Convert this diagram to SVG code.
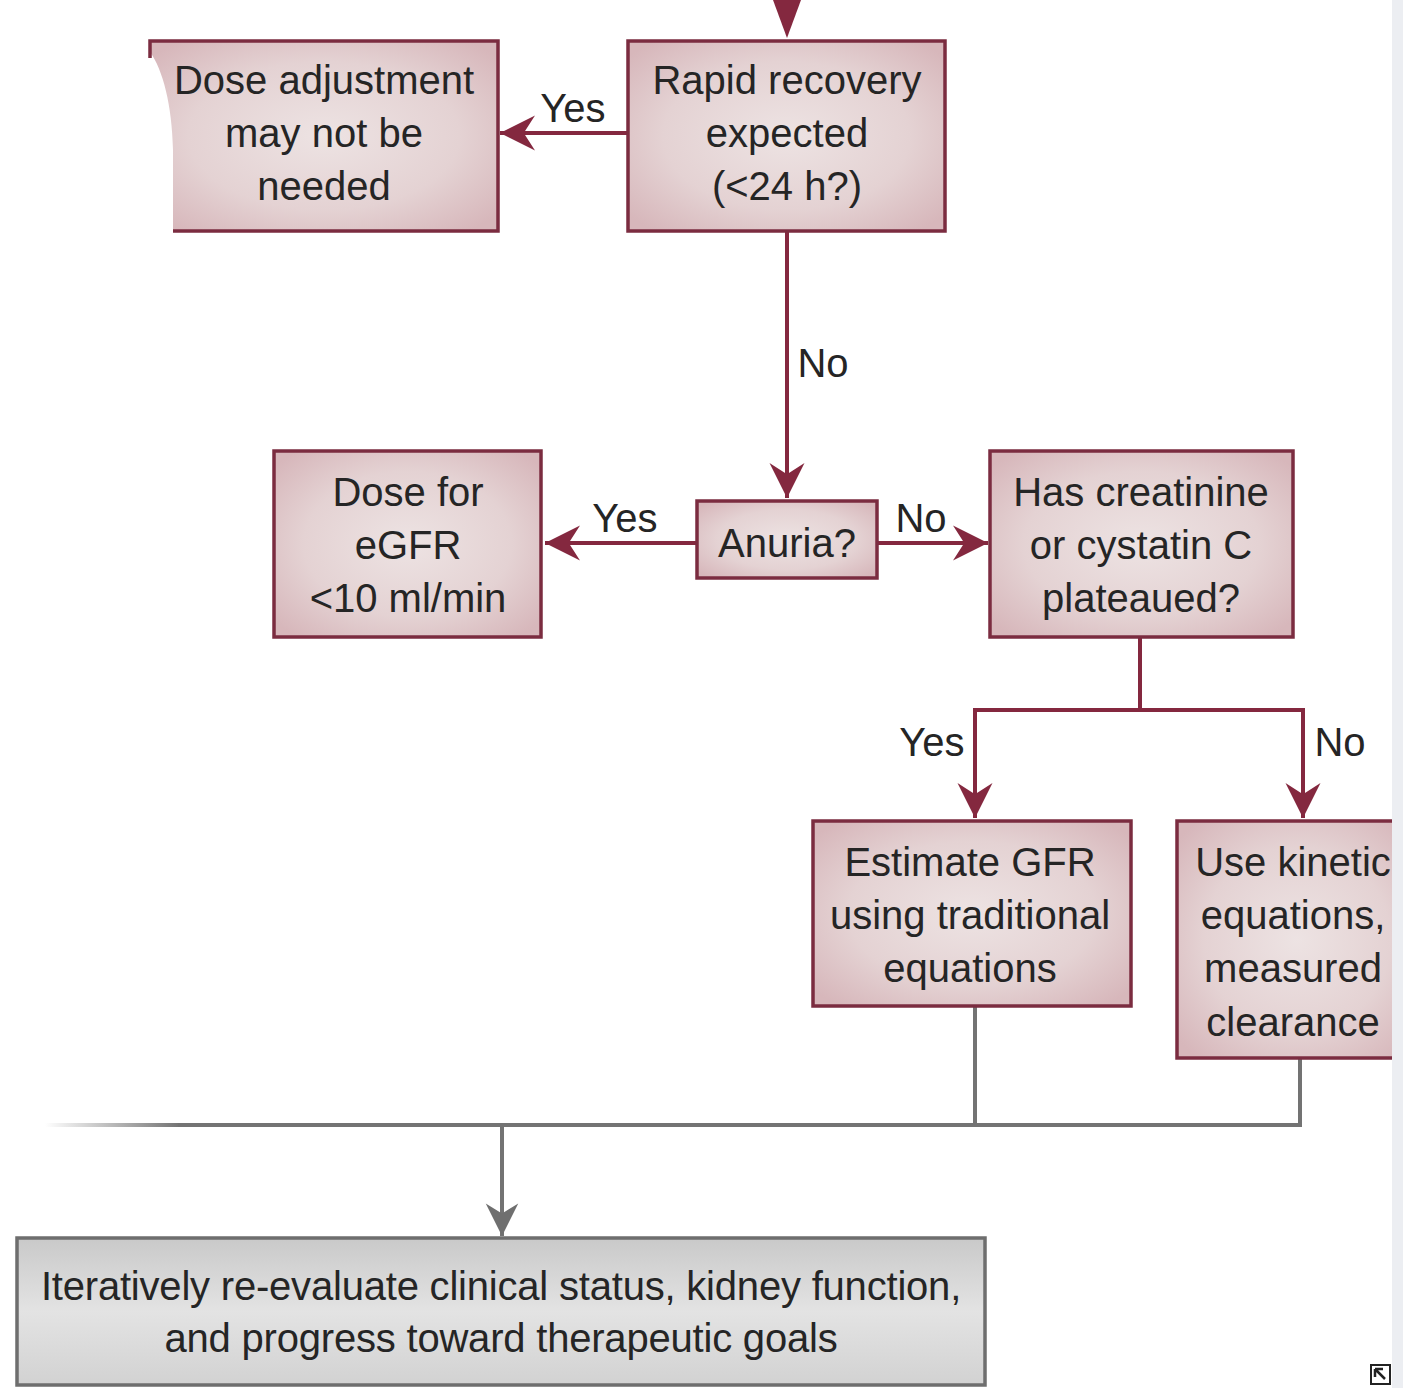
<svg xmlns="http://www.w3.org/2000/svg" width="1403" height="1388" viewBox="0 0 1403 1388">
<defs>
<radialGradient id="pink" cx="50%" cy="50%" r="65%">
<stop offset="0" stop-color="#ede3e3"/>
<stop offset="0.6" stop-color="#e4d2d3"/>
<stop offset="1" stop-color="#d7b7bb"/>
</radialGradient>
<linearGradient id="grayg" x1="0" y1="0" x2="0" y2="1">
<stop offset="0" stop-color="#c9c9c9"/>
<stop offset="0.5" stop-color="#e3e3e3"/>
<stop offset="1" stop-color="#d2d2d2"/>
</linearGradient>
<linearGradient id="fadeL" gradientUnits="userSpaceOnUse" x1="45" y1="0" x2="180" y2="0">
<stop offset="0" stop-color="#737373" stop-opacity="0"/>
<stop offset="1" stop-color="#737373" stop-opacity="1"/>
</linearGradient>
<marker id="ahM" markerUnits="userSpaceOnUse" markerWidth="40" markerHeight="40" viewBox="-30 -16 32 32" refX="0" refY="0" orient="auto">
<path d="M0,0 L-28,-14 L-19,0 L-28,14 Z" fill="#84283f"/>
</marker>
<marker id="ahG" markerUnits="userSpaceOnUse" markerWidth="40" markerHeight="40" viewBox="-30 -16 32 32" refX="0" refY="0" orient="auto">
<path d="M0,0 L-26,-13 L-18,0 L-26,13 Z" fill="#6f6f6f"/>
</marker>
<clipPath id="clipR"><rect x="0" y="0" width="1392" height="1388"/></clipPath>
<style>
.box{fill:url(#pink);stroke:#7b2c40;stroke-width:3.5}
.bfill{fill:url(#pink);stroke:none}
.bline{fill:none;stroke:#7b2c40;stroke-width:3.5}
.gbox{fill:url(#grayg);stroke:#6e6e6e;stroke-width:3.5}
.t{font-family:"Liberation Sans",Arial,sans-serif;font-size:40px;fill:#252525;text-anchor:middle}
.tb{letter-spacing:-0.2px}
.lm{fill:none;stroke:#84283f;stroke-width:4}
.lg{fill:none;stroke:#737373;stroke-width:4}
</style>
</defs>
<rect width="1403" height="1388" fill="#ffffff"/>
<rect x="1392" y="0" width="11" height="1388" fill="#eceef2"/>
<g clip-path="url(#clipR)">
<g id="connectors">
<path d="M773,0 L801,0 L787,38 Z" fill="#84283f"/>
<line class="lm" x1="628" y1="133" x2="500" y2="133" marker-end="url(#ahM)"/>
<line class="lm" x1="787" y1="231" x2="787" y2="498" marker-end="url(#ahM)"/>
<line class="lm" x1="697" y1="543" x2="545" y2="543" marker-end="url(#ahM)"/>
<line class="lm" x1="877" y1="543" x2="988" y2="543" marker-end="url(#ahM)"/>
<polyline class="lm" points="1140,637 1140,710"/>
<polyline class="lm" points="975,710 1303,710 1303,818" marker-end="url(#ahM)"/>
<line class="lm" x1="975" y1="708" x2="975" y2="818" marker-end="url(#ahM)"/>
<polyline class="lg" points="975,1006 975,1125"/>
<polyline class="lg" points="1300,1058 1300,1125 178,1125"/>
<line x1="45" y1="1125" x2="180" y2="1125" stroke="url(#fadeL)" stroke-width="4"/>
<line class="lg" x1="502" y1="1125" x2="502" y2="1236" marker-end="url(#ahG)"/>
<text class="t" x="573" y="122">Yes</text>
<text class="t" x="823" y="377">No</text>
<text class="t" x="625" y="532">Yes</text>
<text class="t" x="921" y="532">No</text>
<text class="t" x="932" y="756">Yes</text>
<text class="t" x="1340" y="756">No</text>
</g>
<g id="n_dose_adj">
<path class="bfill" d="M150,41 L498,41 L498,231 L173,231 L173,150 C172,105 163,70 150,52 Z"/>
<path class="bline" d="M150,58 L150,41 L498,41 L498,231 L173,231"/>
<text class="t" x="324" y="94">Dose adjustment</text>
<text class="t" x="324" y="147">may not be</text>
<text class="t" x="324" y="200">needed</text>
</g>
<g id="n_rapid">
<rect class="box" x="628" y="41" width="317" height="190"/>
<text class="t" x="787" y="94">Rapid recovery</text>
<text class="t" x="787" y="147">expected</text>
<text class="t" x="787" y="200">(&lt;24 h?)</text>
</g>
<g id="n_anuria">
<rect class="box" x="697" y="501" width="180" height="77"/>
<text class="t" x="787" y="557">Anuria?</text>
</g>
<g id="n_dose_egfr">
<rect class="box" x="274" y="451" width="267" height="186"/>
<text class="t" x="408" y="506">Dose for</text>
<text class="t" x="408" y="559">eGFR</text>
<text class="t" x="408" y="612">&lt;10 ml/min</text>
</g>
<g id="n_creat">
<rect class="box" x="990" y="451" width="303" height="186"/>
<text class="t" x="1141" y="506">Has creatinine</text>
<text class="t" x="1141" y="559">or cystatin C</text>
<text class="t" x="1141" y="612">plateaued?</text>
</g>
<g id="n_estimate">
<rect class="box" x="813" y="821" width="318" height="185"/>
<text class="t" x="970" y="876">Estimate GFR</text>
<text class="t" x="970" y="929">using traditional</text>
<text class="t" x="970" y="982">equations</text>
</g>
<g id="n_kinetic">
<rect class="box" x="1177" y="821" width="240" height="237"/>
<text class="t" x="1293" y="876">Use kinetic</text>
<text class="t" x="1293" y="929">equations,</text>
<text class="t" x="1293" y="982">measured</text>
<text class="t" x="1293" y="1036">clearance</text>
</g>
<g id="n_iterate">
<rect class="gbox" x="17" y="1238" width="968" height="147"/>
<text class="t tb" x="501" y="1300">Iteratively re-evaluate clinical status, kidney function,</text>
<text class="t tb" x="501" y="1352">and progress toward therapeutic goals</text>
</g>
</g>
<g id="corner_icon">
<rect x="1371" y="1365" width="19" height="19" fill="#fff" stroke="#222" stroke-width="2"/>
<path d="M1375,1369 L1385,1379 M1375,1369 L1375,1377 M1375,1369 L1383,1369" stroke="#222" stroke-width="2.5" fill="none"/>
</g>
</svg>
